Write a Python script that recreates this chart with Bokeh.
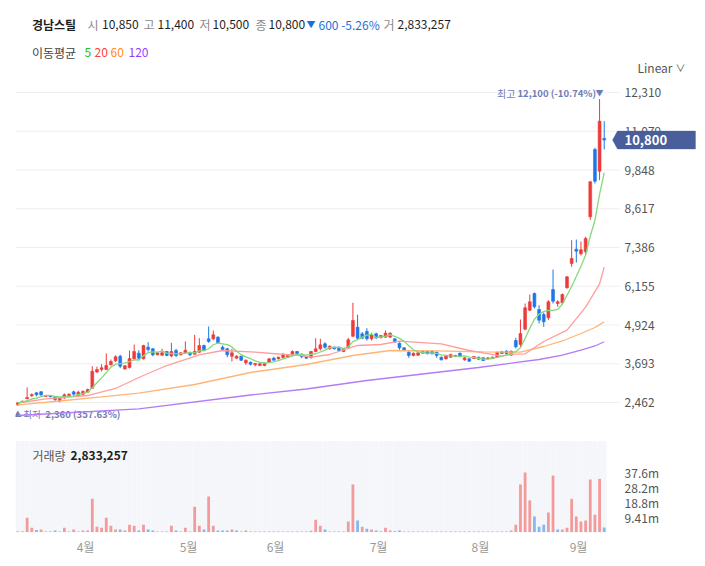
import numpy as np
import pandas as pd
from bokeh.plotting import figure
from bokeh.models import ColumnDataSource, Range1d, FixedTicker, Label, PolyAnnotation
from bokeh.core.properties import value
from bokeh.embed import file_html
from bokeh.resources import INLINE

FONT = "Noto Sans CJK KR"

# ---------------- data ----------------
open_ = [2389, 2462, 2580, 2675, 2770, 2802, 2652, 2684, 2643, 2516,
         2611, 2684, 2802, 2684, 2726, 2789, 2916, 3430, 3510, 3510,
         3660, 3787, 3933, 3530, 3574, 3850, 4030, 3850, 4220, 4168,
         3977, 3965, 4082, 3940, 4114, 3977, 4040, 4040, 3997, 4060,
         4273, 4486, 4486, 4537, 4219, 4168, 3933, 3870, 3933, 3723,
         3742, 3660, 3637, 3637, 3742, 3870, 3850, 3892, 3892, 3955,
         4082, 3997, 3923, 3892, 4082, 4168, 4327, 4168, 4219, 4219,
         4082, 4219, 4568, 4854, 4645, 4718, 4486, 4645, 4520, 4537,
         4537, 4486, 4346, 4200, 4060, 3955, 3965, 4028, 4082, 4092,
         4060, 3901, 3850, 3901, 3930, 4028, 3818, 3850, 3860, 3901,
         3882, 3850, 3860, 3901, 4072, 4092, 3965, 4432, 4305, 4791,
         5394, 5925, 5417, 5258, 5153, 6052, 5607, 5630, 6106, 6878,
         7333, 7186, 7250, 8362, 10500, 9810, 10850]
high = [2478, 2520, 2939, 2750, 2790, 2827, 2700, 2700, 2660, 2620,
        2748, 2750, 2834, 2834, 2853, 2900, 3615, 3600, 3679, 4019,
        3828, 3960, 3977, 3650, 4114, 4305, 4122, 4295, 4378, 4190,
        4060, 4168, 4100, 4358, 4168, 4060, 4400, 4082, 4613, 4505,
        4300, 4876, 4750, 4570, 4273, 4200, 4168, 3960, 3950, 3830,
        3760, 3720, 3710, 3730, 3870, 3914, 3920, 4040, 3980, 4114,
        4100, 4020, 3940, 4100, 4505, 4486, 4378, 4273, 4240, 4240,
        4190, 4517, 5630, 5248, 4700, 4823, 4676, 4680, 4610, 4750,
        4690, 4500, 4370, 4220, 4092, 4050, 4070, 4110, 4100, 4110,
        4080, 3920, 3980, 4010, 3975, 4050, 3900, 3870, 3940, 3920,
        3900, 3900, 3920, 4080, 4090, 4124, 4110, 4517, 5099, 5607,
        5893, 5957, 5553, 5321, 5712, 6687, 5712, 5925, 6480, 7618,
        7640, 7577, 7726, 9493, 10554, 12100, 11400]
low = [2360, 2450, 2570, 2640, 2660, 2652, 2640, 2630, 2494, 2462,
       2580, 2670, 2684, 2675, 2662, 2770, 2897, 3400, 3447, 3495,
       3637, 3750, 3552, 3500, 3542, 3796, 3800, 3828, 4082, 3933,
       3960, 3945, 3930, 3900, 3900, 3955, 4020, 3933, 3977, 4040,
       4090, 4360, 4440, 4327, 4114, 3900, 3764, 3850, 3780, 3660,
       3637, 3610, 3620, 3615, 3720, 3787, 3830, 3870, 3870, 3933,
       3977, 3870, 3850, 3850, 4060, 4114, 4168, 4140, 4146, 4100,
       4060, 4168, 4537, 4463, 4480, 4432, 4432, 4480, 4500, 4517,
       4517, 4360, 4136, 4090, 3882, 3930, 3940, 4010, 3990, 3990,
       3882, 3800, 3830, 3880, 3910, 3900, 3790, 3750, 3840, 3820,
       3780, 3830, 3840, 3880, 4000, 3965, 3950, 4178, 4232, 4759,
       5363, 5448, 4972, 4867, 5077, 5607, 5502, 5575, 6080, 6773,
       6910, 7132, 7142, 8266, 9420, 9524, 10500]
close_ = [2452, 2503, 2620, 2716, 2707, 2707, 2684, 2643, 2557, 2599,
          2707, 2726, 2726, 2789, 2811, 2875, 3456, 3510, 3564, 3637,
          3765, 3914, 3615, 3630, 3860, 4082, 3870, 4273, 4146, 3977,
          4040, 4040, 3955, 4082, 3955, 4040, 4124, 3977, 4082, 4273,
          4114, 4400, 4613, 4360, 4146, 3977, 4040, 3933, 3806, 3806,
          3679, 3700, 3692, 3710, 3850, 3806, 3900, 3977, 3955, 4082,
          4019, 3914, 3870, 4082, 4168, 4295, 4219, 4250, 4168, 4114,
          4168, 4454, 5067, 4505, 4505, 4486, 4613, 4517, 4590, 4664,
          4664, 4378, 4200, 4114, 3955, 4028, 4040, 4092, 4009, 4009,
          3955, 3818, 3955, 3987, 3955, 3923, 3882, 3774, 3923, 3838,
          3796, 3882, 3901, 4060, 4019, 4019, 4092, 4232, 4654, 5471,
          5661, 5502, 5077, 5026, 5661, 5680, 5661, 5893, 6455, 7037,
          7269, 7313, 7672, 9474, 9493, 11400, 10800]
# volume in millions of shares
volume_m = [0.5, 0.5, 9.0, 2.7, 1.4, 1.6, 0.4, 0.4, 1.0, 0.4,
            2.7, 0.4, 1.6, 0.4, 1.0, 1.0, 21.0, 3.3, 2.7, 9.0,
            4.0, 1.6, 1.6, 1.0, 4.6, 4.0, 1.0, 4.6, 1.6, 1.0,
            0.4, 0.4, 0.4, 4.0, 1.0, 0.4, 2.7, 0.4, 16.0, 4.0,
            1.6, 22.5, 4.0, 1.0, 1.0, 1.0, 1.6, 1.0, 0.4, 1.0,
            0.4, 0.4, 0.3, 0.3, 0.3, 0.3, 0.3, 0.3, 0.3, 0.3,
            0.3, 0.3, 0.3, 0.8, 7.8, 4.0, 1.6, 0.4, 0.4, 0.4,
            0.4, 6.7, 30.1, 7.3, 3.3, 2.1, 1.6, 1.0, 0.5, 2.7,
            1.0, 0.6, 1.0, 0.3, 0.3, 0.3, 0.3, 0.3, 0.3, 0.3,
            0.3, 0.3, 0.3, 0.3, 0.3, 0.3, 0.3, 0.3, 0.3, 0.3,
            0.4, 0.4, 0.4, 0.4, 0.4, 0.4, 1.0, 4.6, 30.1, 37.63,
            20.0, 9.9, 3.3, 4.6, 12.4, 35.7, 1.6, 1.6, 2.8, 21.0,
            9.9, 6.7, 7.3, 33.2, 10.9, 33.6, 2.833257]

# moving averages (index, value)
ma20_idx = [0, 6, 15, 21, 26, 32, 39, 44, 51, 56, 61, 63, 67, 73, 78, 82, 91, 97,
            99, 104, 106, 109, 113, 118, 122, 125, 126]
ma20_val = [2446, 2580, 2684, 2907, 3256, 3637, 3977, 4114, 4060, 4003, 3955, 3901,
            3987, 4273, 4305, 4410, 4327, 4114, 4060, 3935, 3990, 4009, 4400, 4760,
            5490, 6233, 6767]
ma60_idx = [0, 9, 18, 26, 38, 50, 62, 72, 80, 90, 100, 108, 113, 117, 121, 124, 126]
ma60_val = [2389, 2510, 2640, 2760, 3034, 3415, 3669, 3955, 4114, 4105, 4073, 4060,
            4241, 4416, 4654, 4845, 5023]
ma120_idx = [0, 26, 50, 62, 75, 87, 99, 106, 112, 117, 121, 124, 126]
ma120_val = [2049, 2262, 2700, 2891, 3161, 3367, 3574, 3710, 3828, 3965, 4124, 4257,
             4391]

price_ticks = [2462, 3693, 4924, 6155, 7386, 8617, 9848, 11079, 12310]
vol_ticks = [9.41, 18.8, 28.2, 37.6]
vol_tick_labels = ["9.41m", "18.8m", "28.2m", "37.6m"]
month_labels = ["4월", "5월", "6월", "7월", "8월", "9월"]
month_pos = [14.55, 36.68, 55.37, 77.5, 99.4, 120.48]

name = "경남스틸"
ma_periods = ["5", "20", "60", "120"]

# ---------------- derived ----------------
n = len(close_)
idx = np.arange(n)
o = np.array(open_, float)
c = np.array(close_, float)
UP, DOWN = "#ef3a3a", "#1f77e6"
ccol = [UP if cc >= oo else DOWN for oo, cc in zip(o, c)]
prev = np.concatenate([[c[0] - 1], c[:-1]])
vcol = ["#f39a9a" if cc >= pc else "#80b9f4" for cc, pc in zip(c, prev)]
ma5 = pd.Series(c).rolling(5, min_periods=1).mean().values

last_o, last_h, last_l, last_c = open_[-1], high[-1], low[-1], close_[-1]
chg = last_c - close_[-2]
pct = chg / close_[-2] * 100
last_vol = int(round(volume_m[-1] * 1e6))
imax = int(np.argmax(high))
imin = int(np.argmin(low))
hi, lo = high[imax], low[imin]
hi_pct = (last_c - hi) / hi * 100
lo_pct = (last_c - lo) / lo * 100

# ---------------- layout constants ----------------
W, H = 705, 566
LEFT, BOTTOM = 15, 34          # borders
FRAME_BOTTOM = H - BOTTOM      # page y of frame bottom
PX = 4.654                     # pixels per candle slot
X0 = -0.5
XEND = 129.3                   # right edge of the chart area (grid end)
Y_LO, Y_HI = -1668, 15233      # price range over the whole frame height
PPX = (Y_HI - Y_LO) / FRAME_BOTTOM   # price units per pixel
VTOP = 57.2                    # top of volume pane (millions)
LABEL_BLUE = "#6f7db5"
TAG = "#4a5e9c"

p = figure(width=W, height=H,
           x_range=Range1d(X0, X0 + (W - LEFT) / PX),
           y_range=Range1d(Y_LO, Y_HI),
           output_backend="svg", toolbar_location=None, y_axis_location=None,
           min_border_left=LEFT, min_border_right=0, min_border_top=0,
           min_border_bottom=BOTTOM)
p.extra_y_ranges = {"vol": Range1d(-0.2526, 335.7)}
p.outline_line_color = None
p.xgrid.grid_line_color = None
p.ygrid.grid_line_color = None

# month axis
p.xaxis.ticker = FixedTicker(ticks=month_pos)
p.xaxis.major_label_overrides = dict(zip(month_pos, month_labels))
p.xaxis.axis_line_color = None
p.xaxis.major_tick_line_color = None
p.xaxis.minor_tick_line_color = None
p.xaxis.major_tick_out = 0
p.xaxis.major_label_standoff = 5
p.xaxis.major_label_text_font = FONT
p.xaxis.major_label_text_font_size = "12px"
p.xaxis.major_label_text_color = "#999999"

# ---- volume pane ----
p.vbar(x=idx, width=0.8, top=VTOP, bottom=-0.2526, color="#f5f6fa", y_range_name="vol")
p.vbar(x=idx, width=0.6, top=volume_m, bottom=0, fill_color=vcol, line_color=None,
       y_range_name="vol")
p.text(x=XEND, y=vol_ticks, text=vol_tick_labels, x_offset=5, y_range_name="vol",
       text_font=value(FONT), text_font_size="12px", text_color="#555555",
       text_align="left", text_baseline="middle")

# ---- price pane ----
p.segment(x0=X0, x1=XEND, y0=price_ticks, y1=price_ticks, line_color="#efefef",
          line_width=1)
p.text(x=XEND, y=price_ticks, text=[f"{t:,}" for t in price_ticks], x_offset=5,
       text_font=value(FONT), text_font_size="12px", text_color="#555555",
       text_align="left", text_baseline="middle")

# min label (drawn under the lines)
p.text(x=[imin], y=[lo], text=["▲"], text_font=value(FONT), text_font_size="8px",
       text_color=LABEL_BLUE, text_align="center", text_baseline="middle", y_offset=8)
p.text(x=[imin], y=[lo], text=["최저"], text_font=value(FONT), text_font_size="9.5px",
       text_color=LABEL_BLUE, text_align="left", text_baseline="middle",
       x_offset=5.5, y_offset=8)
p.text(x=[imin], y=[lo], text=[f"{lo:,} ({lo_pct:.2f}%)"], text_font=value(FONT),
       text_font_size="9.5px", text_font_style="bold", text_color=LABEL_BLUE,
       text_align="left", text_baseline="middle", x_offset=27.5, y_offset=8)

src = ColumnDataSource(dict(x=idx, h=high, l=low,
                            top=np.maximum(o, c), bot=np.minimum(o, c), col=ccol))
p.segment(x0="x", y0="l", x1="x", y1="h", line_color="col", line_width=1, source=src)
p.vbar(x="x", width=0.62, top="top", bottom="bot", fill_color="col",
       line_color="col", line_width=0.6, source=src)

p.line(ma120_idx, ma120_val, line_color="#b27cf7", line_width=1.3)
p.line(ma60_idx, ma60_val, line_color="#ffb575", line_width=1.3)
p.line(ma20_idx, ma20_val, line_color="#ff9d9d", line_width=1.3)
p.line(idx, ma5, line_color="#84d97d", line_width=1.3)

# max label
p.text(x=[imax], y=[hi], text=["▼"], text_font=value(FONT), text_font_size="8px",
       text_color=LABEL_BLUE, text_align="center", text_baseline="middle", y_offset=-6.5)
p.text(x=[imax], y=[hi], text=[f"{hi:,} ({hi_pct:.2f}%)"], text_font=value(FONT),
       text_font_size="9.5px", text_font_style="bold", text_color=LABEL_BLUE,
       text_align="right", text_baseline="middle", x_offset=-3.5, y_offset=-6)
p.text(x=[imax], y=[hi], text=["최고"], text_font=value(FONT), text_font_size="10px",
       text_color=LABEL_BLUE, text_align="left", text_baseline="middle",
       x_offset=-102.5, y_offset=-6)


def hlabel(xp, yp, text, color, size="12px", bold=False):
    p.add_layout(Label(x=xp - LEFT, y=FRAME_BOTTOM - yp, x_units="screen", y_units="screen",
                       text=text, text_color=color, text_font=FONT, text_font_size=size,
                       text_font_style="bold" if bold else "normal",
                       text_align="left", text_baseline="middle"))


# header line 1
GRAY = "#8a8a8a"
DARK = "#1e1e1e"
hlabel(31.5, 24, name, DARK, bold=True)
hlabel(87, 24, "시", GRAY)
hlabel(101.5, 24, f"{last_o:,}", DARK)
hlabel(143, 24, "고", GRAY)
hlabel(157, 24, f"{last_h:,}", DARK)
hlabel(199, 24, "저", GRAY)
hlabel(212, 24, f"{last_l:,}", DARK)
hlabel(255, 24, "종", GRAY)
hlabel(268, 24, f"{last_c:,}", DARK)
hlabel(306, 24, "▼", "#1a6fe0", size="9px")
hlabel(318, 24, f"{abs(chg):,} {pct:.2f}%", "#1a6fe0")
hlabel(383, 24, "거", GRAY)
hlabel(397, 24, f"{last_vol:,}", DARK)
# header line 2 (MA legend)
hlabel(31.5, 52, "이동평균", "#444444")
for xp, txt, colr in zip([84, 94, 110, 128], ma_periods,
                         ["#25c025", "#ff3d3d", "#ff8c1a", "#9a3cff"]):
    hlabel(xp, 52, txt, colr)
# scale selector
hlabel(637, 67, "Linear", "#555555")
hlabel(675, 67, "∨", "#555555", size="10px")
# volume caption
hlabel(32, 455, "거래량", "#555555")
hlabel(70, 455, f"{last_vol:,}", DARK, bold=True)

# current price tag (pentagon pointing left at the last close)
half = 9 * PPX
p.add_layout(PolyAnnotation(
    xs=[612 - LEFT, 617 - LEFT, 695 - LEFT, 695 - LEFT, 617 - LEFT],
    ys=[last_c, last_c + half, last_c + half, last_c - half, last_c - half],
    xs_units="screen", ys_units="data", fill_color=TAG, fill_alpha=1.0,
    line_color=TAG, line_width=1))
p.add_layout(Label(x=624 - LEFT, y=last_c, x_units="screen", y_units="data",
                   text=f"{last_c:,}", text_color="white", text_font=FONT,
                   text_font_size="13px", text_font_style="bold", text_align="left",
                   text_baseline="middle"))

open("out.html", "w").write(file_html(p, INLINE))
